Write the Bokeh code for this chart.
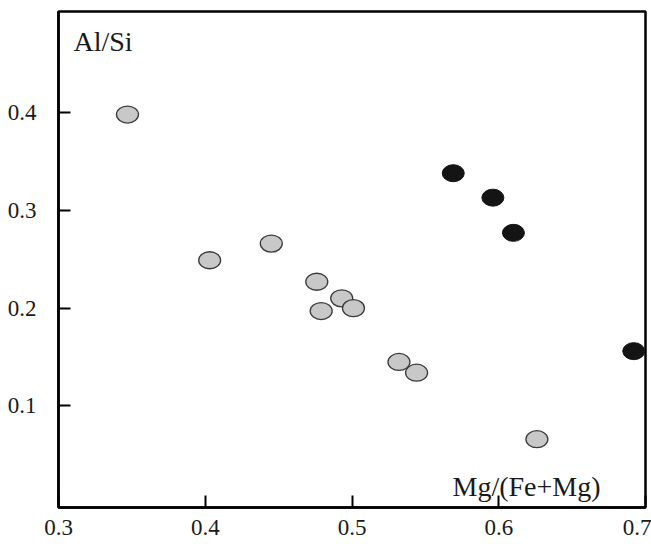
from bokeh.plotting import figure
from bokeh.models import ColumnDataSource, FixedTicker, Label, Range1d
from bokeh.embed import file_html
from bokeh.resources import INLINE

# Data
gray_x = [0.347, 0.403, 0.445, 0.476, 0.493, 0.479, 0.501, 0.532, 0.544, 0.626]
gray_y = [0.398, 0.249, 0.266, 0.227, 0.210, 0.197, 0.200, 0.145, 0.134, 0.066]
black_x = [0.569, 0.596, 0.610, 0.692]
black_y = [0.338, 0.313, 0.277, 0.156]

x_ticks = [0.3, 0.4, 0.5, 0.6, 0.7]
x_tick_labels = ["0.3", "0.4", "0.5", "0.6", "0.7"]
y_ticks = [0.1, 0.2, 0.3, 0.4]
y_tick_labels = ["0.1", "0.2", "0.3", "0.4"]

FONT = "Liberation Serif"
TXT = "#1a1a1a"

p = figure(width=651, height=544, output_backend="svg", toolbar_location=None,
           x_range=Range1d(0.3, 0.7), y_range=Range1d(-0.0039, 0.5034),
           min_border_left=58, min_border_right=6, min_border_top=11, min_border_bottom=37)

p.xgrid.visible = False
p.ygrid.visible = False
p.background_fill_color = "white"
p.border_fill_color = "white"
p.outline_line_color = "black"
p.outline_line_width = 2.5

for ax, ticks, labels in ((p.xaxis[0], x_ticks, x_tick_labels), (p.yaxis[0], y_ticks, y_tick_labels)):
    ax.ticker = FixedTicker(ticks=ticks)
    ax.major_label_overrides = {t: l for t, l in zip(ticks, labels)}
    ax.minor_tick_line_color = None
    ax.major_tick_in = 12
    ax.major_tick_out = 0
    ax.major_tick_line_width = 2
    ax.major_tick_line_color = "black"
    ax.axis_line_width = 2.5
    ax.axis_line_color = "black"
    ax.major_label_text_font = FONT
    ax.major_label_text_font_size = "23px"
    ax.major_label_text_color = TXT

p.xaxis.major_label_standoff = 12
p.yaxis.major_label_standoff = 22

gsrc = ColumnDataSource(dict(x=gray_x, y=gray_y))
bsrc = ColumnDataSource(dict(x=black_x, y=black_y))

p.ellipse(x="x", y="y", width=22, height=17, width_units="screen", height_units="screen",
          source=gsrc, fill_color="#c8c8c8", line_color="#3a3a3a", line_width=1.3)
p.ellipse(x="x", y="y", width=22, height=17, width_units="screen", height_units="screen",
          source=bsrc, fill_color="#141414", line_color="#141414", line_width=1.0)

p.add_layout(Label(x=0.3102, y=0.4727, text="Al/Si", text_font=FONT, text_font_size="28px",
                   text_color=TXT, text_baseline="alphabetic"))
p.add_layout(Label(x=0.5685, y=0.0180, text="Mg/(Fe+Mg)", text_font=FONT, text_font_size="28px",
                   text_color=TXT, text_baseline="alphabetic"))

open("out.html", "w").write(file_html(p, INLINE))
